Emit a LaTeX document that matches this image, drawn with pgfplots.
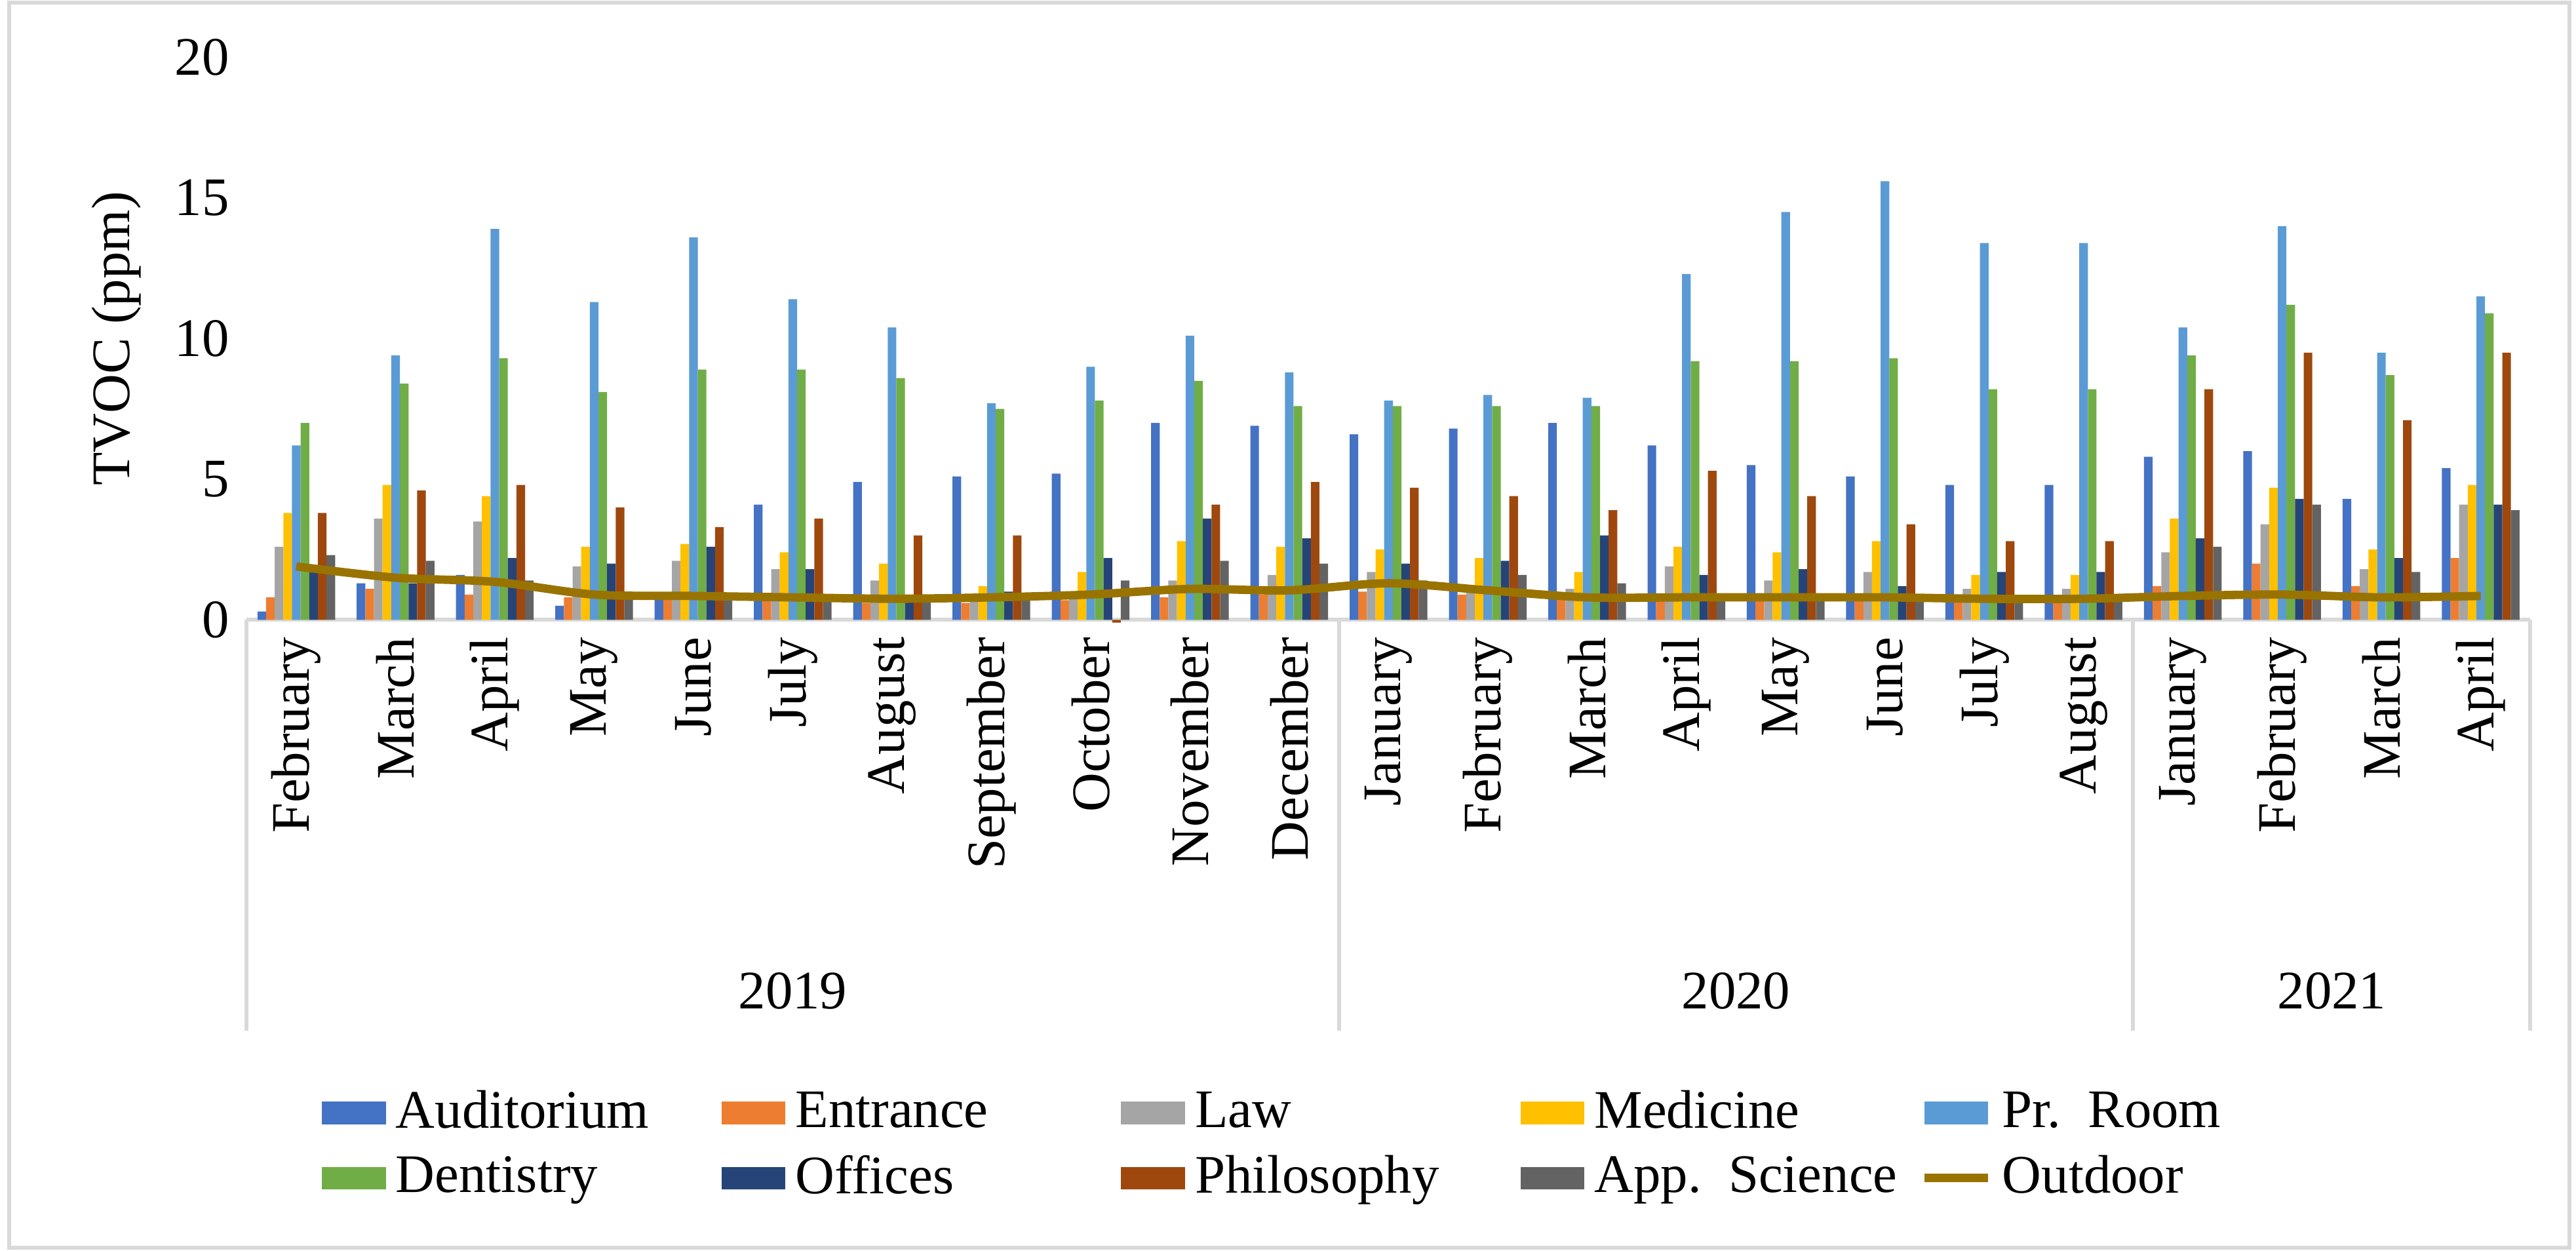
\documentclass[border=0pt]{standalone}
\usepackage{pgfplots}
\pgfplotsset{compat=1.18}
\usepackage{pgfplotstable}
\usepackage{fontspec}
\setmainfont{Liberation Serif}
\definecolor{cA}{HTML}{4472C4}
\definecolor{cB}{HTML}{ED7D31}
\definecolor{cC}{HTML}{A5A5A5}
\definecolor{cD}{HTML}{FFC000}
\definecolor{cE}{HTML}{5B9BD5}
\definecolor{cF}{HTML}{70AD47}
\definecolor{cG}{HTML}{264478}
\definecolor{cH}{HTML}{9E480E}
\definecolor{cI}{HTML}{636363}
\definecolor{cO}{HTML}{997300}
\definecolor{gl}{HTML}{D9D9D9}
\pgfplotstableread{
x A B C D E F G H I O
0 0.3 0.8 2.6 3.8 6.2 7.0 1.8 3.8 2.3 1.9
1 1.3 1.1 3.6 4.8 9.4 8.4 1.3 4.6 2.1 1.5
2 1.6 0.9 3.5 4.4 13.9 9.3 2.2 4.8 1.4 1.35
3 0.5 0.8 1.9 2.6 11.3 8.1 2.0 4.0 0.9 0.9
4 0.8 0.8 2.1 2.7 13.6 8.9 2.6 3.3 0.8 0.85
5 4.1 0.7 1.8 2.4 11.4 8.9 1.8 3.6 0.8 0.8
6 4.9 0.6 1.4 2.0 10.4 8.6 0.8 3.0 0.8 0.75
7 5.1 0.6 0.8 1.2 7.7 7.5 1.0 3.0 0.7 0.8
8 5.2 0.7 0.8 1.7 9.0 7.8 2.2 -0.1 1.4 0.9
9 7.0 0.8 1.4 2.8 10.1 8.5 3.6 4.1 2.1 1.1
10 6.9 0.9 1.6 2.6 8.8 7.6 2.9 4.9 2.0 1.05
11 6.6 1.0 1.7 2.5 7.8 7.6 2.0 4.7 1.4 1.3
12 6.8 0.9 1.0 2.2 8.0 7.6 2.1 4.4 1.6 1.05
13 7.0 0.8 1.1 1.7 7.9 7.6 3.0 3.9 1.3 0.8
14 6.2 0.8 1.9 2.6 12.3 9.2 1.6 5.3 0.8 0.8
15 5.5 0.7 1.4 2.4 14.5 9.2 1.8 4.4 0.7 0.8
16 5.1 0.7 1.7 2.8 15.6 9.3 1.2 3.4 0.7 0.8
17 4.8 0.7 1.1 1.6 13.4 8.2 1.7 2.8 0.7 0.75
18 4.8 0.7 1.1 1.6 13.4 8.2 1.7 2.8 0.7 0.75
19 5.8 1.2 2.4 3.6 10.4 9.4 2.9 8.2 2.6 0.85
20 6.0 2.0 3.4 4.7 14.0 11.2 4.3 9.5 4.1 0.9
21 4.3 1.2 1.8 2.5 9.5 8.7 2.2 7.1 1.7 0.8
22 5.4 2.2 4.1 4.8 11.5 10.9 4.1 9.5 3.9 0.85
}\data
\begin{document}
\begin{tikzpicture}
\begin{axis}[
  scale only axis, width=463pt, height=114pt,
  xmin=-0.5, xmax=22.5, ymin=0, ymax=20,
  ybar=0pt, bar width=1.75pt,
  clip=false,
  axis x line*=bottom, axis y line*=left,
  y axis line style={draw=none},
  x axis line style={gl, line width=0.8pt, -},
  xtick={0,...,22}, major tick length=0pt,
  xticklabels={February,March,April,May,June,July,August,September,October,November,December,January,February,March,April,May,June,July,August,January,February,March,April},
  xticklabel style={rotate=90, anchor=east, font=\fontsize{11}{12}\selectfont},
  ytick={0,5,10,15,20},
  yticklabel style={font=\fontsize{11}{12}\selectfont},
  /pgf/number format/assume math mode=true,
  ylabel={TVOC (ppm)}, ylabel style={font=\fontsize{11}{12}\selectfont},
  legend style={draw=none, at={(0.47,-0.80)}, anchor=north, legend columns=5,
    font=\fontsize{11}{12}\selectfont,
    /tikz/every even column/.append style={column sep=2pt},
    cells={anchor=west, text width=62pt}},
  legend image code/.code={\fill[#1] (0pt,-2.3pt) rectangle (13pt,2.3pt);},
]
\addplot[fill=cA, draw=none] table[x=x,y=A]{\data};
\addplot[fill=cB, draw=none] table[x=x,y=B]{\data};
\addplot[fill=cC, draw=none] table[x=x,y=C]{\data};
\addplot[fill=cD, draw=none] table[x=x,y=D]{\data};
\addplot[fill=cE, draw=none] table[x=x,y=E]{\data};
\addplot[fill=cF, draw=none] table[x=x,y=F]{\data};
\addplot[fill=cG, draw=none] table[x=x,y=G]{\data};
\addplot[fill=cH, draw=none] table[x=x,y=H]{\data};
\addplot[fill=cI, draw=none] table[x=x,y=I]{\data};
\addplot[sharp plot, smooth, cO, line width=1.7pt, mark=none,
  legend image code/.code={\draw[cO, line width=1.7pt] (0pt,0pt)--(13pt,0pt);}] table[x=x,y=O]{\data};
\legend{Auditorium,Entrance,Law,Medicine,Pr. Room,Dentistry,Offices,Philosophy,App. Science,Outdoor}
\draw[gl, line width=0.8pt] (axis cs:-0.5,0) -- (axis cs:-0.5,-14.6);
\draw[gl, line width=0.8pt] (axis cs:10.5,0) -- (axis cs:10.5,-14.6);
\draw[gl, line width=0.8pt] (axis cs:18.5,0) -- (axis cs:18.5,-14.6);
\draw[gl, line width=0.8pt] (axis cs:22.5,0) -- (axis cs:22.5,-14.6);
\node[font=\fontsize{11}{12}\selectfont] at (axis cs:5,-13.2) {2019};
\node[font=\fontsize{11}{12}\selectfont] at (axis cs:14.5,-13.2) {2020};
\node[font=\fontsize{11}{12}\selectfont] at (axis cs:20.5,-13.2) {2021};
\draw[gl, line width=0.8pt] (rel axis cs:-0.104,-1.116) rectangle (rel axis cs:1.017,1.097);
\path (rel axis cs:-0.108,-1.122) rectangle (rel axis cs:1.02,1.102);
\end{axis}
\end{tikzpicture}
\end{document}
